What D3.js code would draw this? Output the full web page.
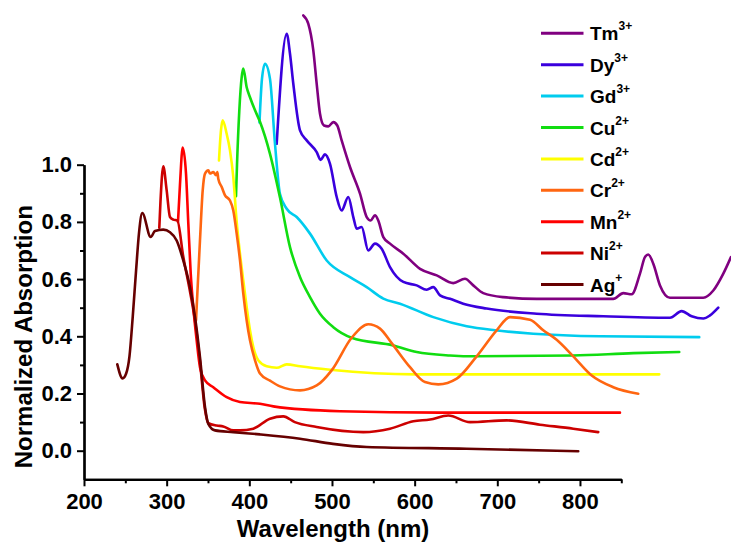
<!DOCTYPE html>
<html>
<head>
<meta charset="utf-8">
<script src="https://cdn.jsdelivr.net/npm/d3@7"></script>
<style>
  html, body { margin: 0; padding: 0; background: #ffffff; }
  svg { display: block; }
  text { font-family: "Liberation Sans", Arial, Helvetica, sans-serif; font-weight: bold; fill: #000; }
</style>
</head>
<body>
<script>
// ---------------- data (wavelength nm, normalized absorption) ----------------
const ions    = ["Tm", "Dy", "Gd", "Cu", "Cd", "Cr", "Mn", "Ni", "Ag"];
const charges = ["3+", "3+", "3+", "2+", "2+", "2+", "2+", "2+", "+"];
const colors  = ["#800080", "#3A00DD", "#00CCEE", "#11DD11", "#FFFF00", "#FF6611", "#FF0000", "#CC0000", "#660000"];

const xTicks = [200, 300, 400, 500, 600, 700, 800];
const yTicks = [0.0, 0.2, 0.4, 0.6, 0.8, 1.0];

const tm = [[465.3,1.522],[471.3,1.493],[477.4,1.40],[481.5,1.283],[485.5,1.178],[490.3,1.137],[495.5,1.134],[501.6,1.149],[506.4,1.137],[511.7,1.085],[521.8,0.992],[533.9,0.899],[542,0.817],[546.8,0.805],[552,0.823],[556,0.805],[562.1,0.747],[570.2,0.724],[586.3,0.689],[606.5,0.636],[626.7,0.613],[646.7,0.586],[660.9,0.601],[670.9,0.578],[683,0.551],[707.2,0.537],[747.6,0.531],[840.3,0.531],[852.4,0.551],[862.6,0.547],[872.6,0.619],[878.6,0.677],[882.6,0.686],[888.7,0.654],[896.8,0.578],[908.9,0.535],[949.2,0.535],[961.3,0.56],[973.4,0.619],[982.7,0.677]];

const dy = [[433.1,1.073],[445.2,1.458],[449.2,1.388],[453.2,1.283],[461.3,1.12],[469.4,1.085],[481.5,1.044],[486.3,1.017],[491.5,1.036],[497.6,1.003],[505.7,0.887],[511.7,0.84],[519.7,0.887],[525.8,0.817],[529.9,0.776],[535.9,0.782],[543.9,0.70],[552,0.724],[560.1,0.706],[570.2,0.642],[586.3,0.59],[602.5,0.578],[614.6,0.563],[622.6,0.572],[630.7,0.543],[642.8,0.531],[658.8,0.514],[687.1,0.497],[747.6,0.479],[828.2,0.47],[908.9,0.465],[923,0.488],[935.1,0.47],[949.2,0.462],[957.3,0.473],[967.3,0.50]];

const gd = [[412.3,1.148],[415.3,1.30],[419,1.353],[425,1.30],[431,1.075],[437.1,0.897],[445.2,0.846],[457.3,0.817],[473.4,0.759],[493.6,0.665],[521.8,0.607],[542,0.572],[562.1,0.532],[582.3,0.514],[622.6,0.467],[663,0.435],[697.2,0.421],[743.5,0.409],[824.2,0.40],[944.3,0.397]];

const cu = [[383.9,0.89],[385.1,1.0],[387.9,1.19],[390.8,1.307],[392.7,1.336],[396.8,1.271],[400.8,1.236],[406.9,1.19],[412.9,1.15],[425,1.038],[437.1,0.885],[449.2,0.712],[461.3,0.607],[473.4,0.537],[485.5,0.479],[501.6,0.432],[523.8,0.395],[574.2,0.368],[602.5,0.345],[642.8,0.333],[673.8,0.33],[791.9,0.333],[864.5,0.341],[920.1,0.345]];

const cd = [[363.3,1.015],[365.7,1.12],[367.8,1.155],[372.6,1.108],[376.6,1.05],[380.6,0.957],[384.7,0.80],[388.7,0.689],[392.7,0.595],[396.8,0.502],[400.8,0.421],[404.8,0.362],[410.8,0.316],[421,0.295],[433.1,0.29],[445.2,0.302],[461.3,0.295],[497.6,0.283],[600.4,0.267],[895.9,0.267]];

const cr = [[335.5,0.456],[336.3,0.502],[340.3,0.735],[343.6,0.91],[346.4,0.969],[350.4,0.98],[352.4,0.969],[356.4,0.974],[359.7,0.963],[361.3,0.974],[362.5,0.95],[366.6,0.922],[370.6,0.893],[376.6,0.875],[380.6,0.84],[384.7,0.759],[388.7,0.666],[392.7,0.549],[396.8,0.455],[400.8,0.386],[406.9,0.316],[412.9,0.27],[425,0.245],[437.1,0.225],[461.3,0.211],[481.5,0.228],[499.6,0.281],[523.8,0.395],[543.9,0.442],[558.1,0.427],[572.2,0.376],[594.4,0.292],[612.5,0.24],[628.6,0.232],[650.9,0.252],[675,0.33],[699.2,0.421],[715.3,0.467],[739.5,0.458],[755.6,0.421],[771.8,0.388],[791.9,0.33],[814.2,0.263],[840.3,0.222],[870.5,0.199]];

const mn = [[313.7,0.80],[316.1,0.93],[319.4,1.06],[323.4,0.969],[326.2,0.794],[329.1,0.619],[332.2,0.502],[336.3,0.386],[340.3,0.292],[346.4,0.246],[356.4,0.222],[372.6,0.187],[388.7,0.17],[412.9,0.164],[429,0.155],[509.7,0.138],[630.7,0.133],[848.4,0.133]];

const ni = [[291.1,0.78],[292.5,0.87],[295.9,0.994],[300,0.91],[304,0.817],[308,0.808],[312.9,0.805],[320,0.68],[328,0.56],[334,0.46],[340,0.32],[346,0.15],[350.4,0.096],[360.5,0.088],[368.5,0.085],[380.6,0.071],[388.7,0.071],[404.8,0.077],[425,0.112],[441.1,0.12],[455,0.10],[481.4,0.083],[537.9,0.065],[570.2,0.077],[598.4,0.103],[618.6,0.109],[640.7,0.123],[667,0.10],[711.3,0.106],[751.6,0.091],[791.9,0.077],[822.1,0.065]];

const ag = [[240.3,0.302],[246.7,0.253],[251,0.27],[255,0.33],[259,0.47],[263,0.63],[266.5,0.76],[270.5,0.831],[280.7,0.747],[285.9,0.768],[295.9,0.773],[304,0.764],[312.1,0.735],[320.1,0.665],[328.2,0.572],[334.3,0.467],[340.3,0.327],[346.4,0.152],[350.4,0.094],[358.5,0.071],[380.6,0.065],[412.9,0.057],[461.3,0.042],[501.2,0.024],[541.9,0.013],[662.9,0.007],[797.9,-0.002]];

const seriesData = [tm, dy, gd, cu, cd, cr, mn, ni, ag];

// ---------------- drawing ----------------
const W = 731, H = 547;
const svg = d3.select("body").append("svg").attr("width", W).attr("height", H);

const x = d3.scaleLinear().domain([200, 850]).range([84, 621.3]);
const y = d3.scaleLinear().domain([-0.1, 1.0]).range([479.3, 164.7]);

// curves
const line = d3.line().x(d => x(d[0])).y(d => y(d[1])).curve(d3.curveMonotoneX);
svg.append("g").selectAll("path").data(seriesData).join("path")
  .attr("d", line)
  .attr("fill", "none")
  .attr("stroke", (d, i) => colors[i])
  .attr("stroke-width", 2.6)
  .attr("stroke-linejoin", "round")
  .attr("stroke-linecap", "round");

// axes
const xMinor = d3.range(250, 851, 100);
const yMinor = [0.1, 0.3, 0.5, 0.7, 0.9];

const gx = svg.append("g").attr("transform", `translate(0,${y(-0.1)})`)
  .call(d3.axisBottom(x).tickValues(xTicks).tickSize(7).tickSizeOuter(0).tickPadding(7).tickFormat(d3.format("d")));
const gxm = svg.append("g").attr("transform", `translate(0,${y(-0.1)})`)
  .call(d3.axisBottom(x).tickValues(xMinor).tickSize(4).tickSizeOuter(0).tickFormat(""));
const gy = svg.append("g").attr("transform", `translate(${x(200)},0)`)
  .call(d3.axisLeft(y).tickValues(yTicks).tickSize(7).tickSizeOuter(0).tickPadding(5).tickFormat(d3.format(".1f")));
const gym = svg.append("g").attr("transform", `translate(${x(200)},0)`)
  .call(d3.axisLeft(y).tickValues(yMinor).tickSize(4).tickSizeOuter(0).tickFormat(""));

[gx, gxm, gy, gym].forEach(g => {
  g.selectAll(".domain").attr("stroke", "#000").attr("stroke-width", 2.2);
  g.selectAll(".tick line").attr("stroke", "#000").attr("stroke-width", 2);
  g.selectAll("text").attr("font-size", 22).attr("font-family", "Liberation Sans, Arial, sans-serif").attr("font-weight", "bold").attr("fill", "#000");
});

// axis titles
svg.append("text").attr("x", 333).attr("y", 537).attr("text-anchor", "middle")
  .attr("font-size", 24).text("Wavelength (nm)");
svg.append("text").attr("transform", "translate(31.5,336.7) rotate(-90)").attr("text-anchor", "middle")
  .attr("font-size", 24).text("Normalized Absorption");

// legend
const lg = svg.append("g");
ions.forEach((name, i) => {
  const ly = 33.3 + i * 31.4;
  lg.append("line").attr("x1", 541).attr("x2", 583.5).attr("y1", ly).attr("y2", ly)
    .attr("stroke", colors[i]).attr("stroke-width", 3);
  const t = lg.append("text").attr("x", 590).attr("y", ly + 7).attr("font-size", 19);
  t.append("tspan").text(name);
  t.append("tspan").attr("dy", -10).attr("font-size", 12).text(charges[i]);
});
</script>
</body>
</html>
